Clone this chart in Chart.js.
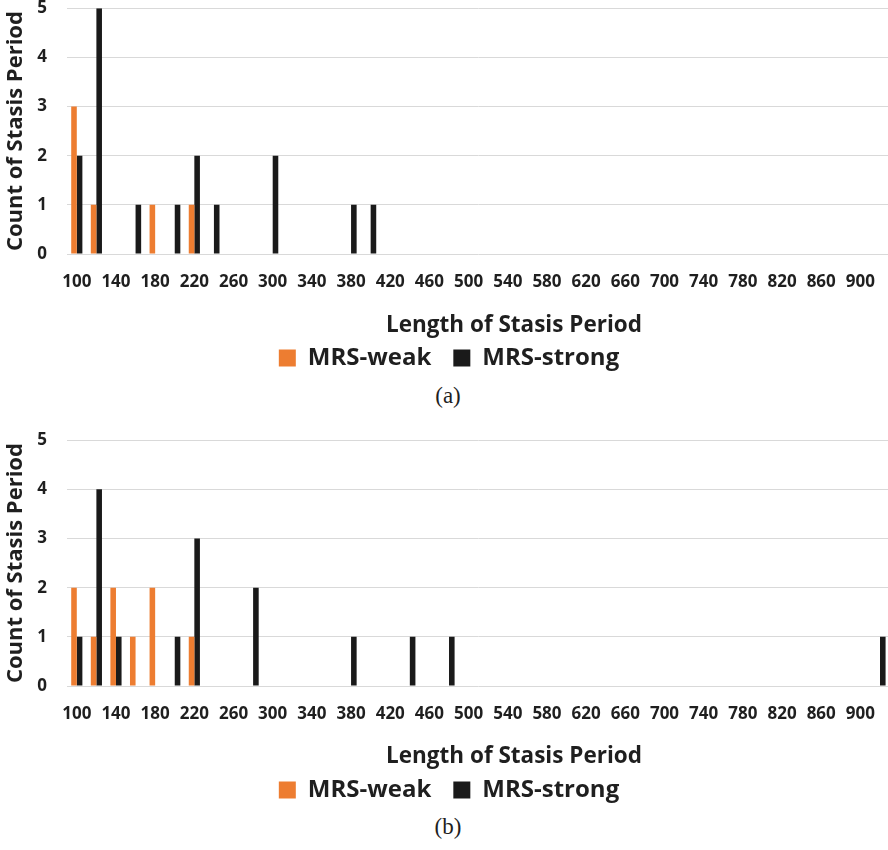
<!DOCTYPE html>
<html>
<head>
<meta charset="utf-8">
<title>Length of Stasis Period</title>
<script src="https://cdn.jsdelivr.net/npm/chart.js@4.4.1/dist/chart.umd.min.js"></script>
<style>
  html, body { margin: 0; padding: 0; background: #fff; width: 888px; height: 850px; overflow: hidden; }
  .panel { position: absolute; left: 0; }
  .xtitle { position: absolute; font: bold 22.5px "Open Sans", sans-serif; color: #1f1f1f; white-space: nowrap; transform: translate(-50%, -50%); }
  .caption { position: absolute; font: 23px "Liberation Serif", serif; color: #1f1f1f; transform: translate(-50%, -50%); }
</style>
</head>
<body>
<canvas id="chartA" class="panel" width="898" height="402" style="top:-22px"></canvas>
<div class="xtitle" style="left:514px; top:323px">Length of Stasis Period</div>
<div class="caption" style="left:448px; top:396px">(a)</div>

<canvas id="chartB" class="panel" width="898" height="402" style="top:410px"></canvas>
<div class="xtitle" style="left:514px; top:754px">Length of Stasis Period</div>
<div class="caption" style="left:448px; top:827px">(b)</div>

<script>
// categories (length of stasis period, step 20)
const lengths = [100, 120, 140, 160, 180, 200, 220, 240, 260, 280,
                 300, 320, 340, 360, 380, 400, 420, 440, 460, 480,
                 500, 520, 540, 560, 580, 600, 620, 640, 660, 680,
                 700, 720, 740, 760, 780, 800, 820, 840, 860, 880,
                 900, 920];

// (a)
const weakA   = [3, 1, 0, 0, 1, 0, 1, 0, 0, 0,
                 0, 0, 0, 0, 0, 0, 0, 0, 0, 0,
                 0, 0, 0, 0, 0, 0, 0, 0, 0, 0,
                 0, 0, 0, 0, 0, 0, 0, 0, 0, 0,
                 0, 0];
const strongA = [2, 5, 0, 1, 0, 1, 2, 1, 0, 0,
                 2, 0, 0, 0, 1, 1, 0, 0, 0, 0,
                 0, 0, 0, 0, 0, 0, 0, 0, 0, 0,
                 0, 0, 0, 0, 0, 0, 0, 0, 0, 0,
                 0, 0];

// (b)
const weakB   = [2, 1, 2, 1, 2, 0, 1, 0, 0, 0,
                 0, 0, 0, 0, 0, 0, 0, 0, 0, 0,
                 0, 0, 0, 0, 0, 0, 0, 0, 0, 0,
                 0, 0, 0, 0, 0, 0, 0, 0, 0, 0,
                 0, 0];
const strongB = [1, 4, 1, 0, 0, 1, 3, 0, 0, 2,
                 0, 0, 0, 0, 1, 0, 0, 1, 0, 1,
                 0, 0, 0, 0, 0, 0, 0, 0, 0, 0,
                 0, 0, 0, 0, 0, 0, 0, 0, 0, 0,
                 0, 1];

const yTicks = [0, 1, 2, 3, 4, 5];

const ORANGE = '#ED7D31';
const BLACK = '#1a1a1a';
const TEXT = '#1f1f1f';
const GRID = '#d9d9d9';
const FONT = 'Open Sans';

function makeChart(id, weak, strong) {
  new Chart(document.getElementById(id), {
    type: 'bar',
    data: {
      labels: lengths,
      datasets: [
        { label: 'MRS-weak', data: weak, backgroundColor: ORANGE },
        { label: 'MRS-strong', data: strong, backgroundColor: BLACK }
      ]
    },
    options: {
      responsive: false,
      animation: false,
      categoryPercentage: 0.57,
      barPercentage: 1,
      layout: { padding: { left: 0, right: 0, top: 0, bottom: 0 } },
      plugins: {
        tooltip: { enabled: false },
        legend: {
          position: 'bottom',
          labels: {
            boxWidth: 17, boxHeight: 17, padding: 22,
            color: TEXT,
            font: { family: FONT, weight: 'bold', size: 24 }
          }
        }
      },
      scales: {
        x: {
          grid: { display: false, drawTicks: false },
          border: { display: false },
          ticks: {
            autoSkip: false, maxRotation: 0, padding: 18,
            color: TEXT,
            font: { family: FONT, weight: 'bold', size: 17 },
            callback: (v, i) => (i % 2 === 0 ? lengths[i] : '')
          },
          afterFit: s => { s.height = 70; }
        },
        y: {
          min: yTicks[0], max: yTicks[yTicks.length - 1],
          grid: { color: GRID, lineWidth: 1, drawTicks: false },
          border: { display: false },
          ticks: {
            stepSize: 1, padding: 20,
            color: TEXT,
            font: { family: FONT, weight: 'bold', size: 17 }
          },
          title: {
            display: true, text: 'Count of Stasis Period',
            color: TEXT, padding: { top: 3, bottom: 0 },
            font: { family: FONT, weight: 'bold', size: 22 }
          },
          afterFit: s => { s.width = 67; }
        }
      }
    }
  });
}

makeChart('chartA', weakA, strongA);
makeChart('chartB', weakB, strongB);
</script>
</body>
</html>
